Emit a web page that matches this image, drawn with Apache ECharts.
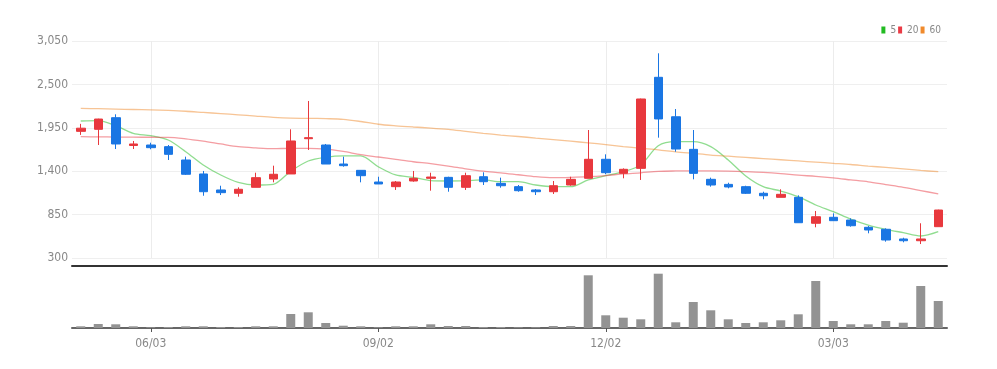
<!DOCTYPE html>
<html>
<head>
<meta charset="utf-8">
<script src="https://cdn.jsdelivr.net/npm/echarts@6/dist/echarts.min.js"></script>
<style>
  html, body { margin: 0; padding: 0; background: #fff; }
  #chart { width: 997px; height: 369px; }
</style>
</head>
<body>
<div id="chart"></div>
<script>
// weekly candles, 2024-05-06 .. 2025-04-14
const categories = [
  '05/06', '05/13', '05/20', '05/27', '06/03', '06/10', '06/17', '06/24', '07/01', '07/08',
  '07/15', '07/22', '07/29', '08/05', '08/12', '08/19', '08/26', '09/02', '09/09', '09/16',
  '09/23', '09/30', '10/07', '10/14', '10/21', '10/28', '11/04', '11/11', '11/18', '11/25',
  '12/02', '12/09', '12/16', '12/23', '12/30', '01/06', '01/13', '01/20', '01/27', '02/03',
  '02/10', '02/17', '02/24', '03/03', '03/10', '03/17', '03/24', '03/31', '04/07', '04/14'
];
const shownLabels = ['06/03', '09/02', '12/02', '03/03'];

// [open, close, low, high]
const ohlc = [
  [1905, 1945, 1860, 2000], [1931, 2061, 1732, 2065], [2078, 1745, 1681, 2121], [1726, 1745, 1681, 1783],
  [1732, 1698, 1678, 1761], [1711, 1614, 1542, 1732], [1542, 1361, 1352, 1584], [1365, 1140, 1089, 1403],
  [1162, 1128, 1098, 1216], [1120, 1171, 1077, 1196], [1196, 1318, 1196, 1381], [1301, 1361, 1259, 1470],
  [1365, 1783, 1365, 1931], [1812, 1825, 1669, 2290], [1732, 1491, 1491, 1745], [1491, 1470, 1457, 1584],
  [1411, 1343, 1259, 1411], [1263, 1238, 1238, 1330], [1204, 1263, 1162, 1276], [1276, 1310, 1267, 1403],
  [1310, 1326, 1153, 1381], [1322, 1196, 1140, 1330], [1196, 1343, 1162, 1381], [1330, 1267, 1225, 1386],
  [1246, 1216, 1191, 1318], [1204, 1153, 1140, 1225], [1162, 1140, 1098, 1174], [1140, 1216, 1111, 1276],
  [1225, 1297, 1216, 1330], [1310, 1551, 1310, 1922], [1551, 1381, 1361, 1614], [1373, 1424, 1310, 1436],
  [1436, 2315, 1289, 2320], [2590, 2062, 1825, 2894], [2090, 1681, 1647, 2188], [1677, 1373, 1297, 1922],
  [1297, 1225, 1204, 1318], [1233, 1200, 1183, 1254], [1204, 1120, 1111, 1216], [1120, 1089, 1044, 1140],
  [1069, 1107, 1069, 1171], [1069, 747, 747, 1094], [740, 823, 689, 896], [816, 773, 769, 866],
  [781, 709, 697, 803], [689, 655, 613, 706], [664, 528, 507, 676], [541, 519, 499, 557],
  [519, 541, 477, 740], [697, 908, 695, 912]
];

const ma5 = [
  2036, 2040, 1977, 1880, 1850, 1795, 1647, 1479, 1352, 1259,
  1225, 1234, 1400, 1529, 1576, 1593, 1593, 1457, 1352, 1322,
  1280, 1276, 1280, 1289, 1267, 1267, 1225, 1204, 1204, 1289,
  1343, 1394, 1479, 1723, 1774, 1774, 1711, 1542, 1340, 1204,
  1149, 1077, 972, 887, 794, 718, 664, 621, 579, 633
];
const ma20 = [
  1837, 1835, 1833, 1831, 1830, 1829, 1810, 1780, 1745, 1711,
  1695, 1685, 1690, 1690, 1680, 1650, 1610, 1580, 1550, 1520,
  1495, 1465, 1430, 1400, 1380, 1355, 1330, 1318, 1322, 1330,
  1345, 1365, 1380, 1398, 1403, 1405, 1405, 1402, 1395, 1385,
  1370, 1350, 1335, 1315, 1290, 1265, 1230, 1195, 1155, 1112
];
const ma60 = [
  2197, 2192, 2187, 2182, 2177, 2170, 2160, 2145, 2130, 2115,
  2098, 2082, 2072, 2070, 2066, 2058, 2030, 1995, 1975, 1960,
  1947, 1930, 1905, 1880, 1858, 1840, 1820, 1800, 1780, 1760,
  1738, 1712, 1690, 1670, 1645, 1625, 1605, 1590, 1575, 1560,
  1545, 1530, 1515, 1500, 1485, 1465, 1448, 1430, 1410, 1394
];

// relative volume (units)
const volume = [
  1.7, 4, 3.7, 1.7, 0.7, 1, 1.7, 1.7, 1, 1,
  1.7, 1.7, 14, 15.7, 5, 2.3, 1.7, 0.7, 1.7, 1.7,
  3.7, 2, 2, 1, 1, 0.7, 0.7, 2, 2, 52.7,
  12.7, 10.3, 8.7, 54.3, 5.7, 26, 17.7, 8.7, 5, 5.7,
  7.7, 13.7, 47, 7, 3.7, 3.7, 7, 5.3, 42, 27
];

const yTicks = [300, 850, 1400, 1950, 2500, 3050];

const FONT = "'Liberation Sans Narrow', 'DejaVu Sans Condensed', sans-serif";
const showIdx = (idx, val) => shownLabels.indexOf(val) >= 0;

const maLine = (name, data, color) => ({
  name: name,
  type: 'line',
  data: data,
  showSymbol: false,
  smooth: 0.3,
  itemStyle: { color: color },
  lineStyle: { color: color, width: 1.3, opacity: 0.5 },
  z: 3
});

const chart = echarts.init(document.getElementById('chart'));

chart.setOption({
  animation: false,
  legend: {
    data: ['5', '20', '60'],
    right: 51,
    top: 20,
    icon: 'rect',
    itemWidth: 4,
    itemHeight: 7,
    itemGap: 2,
    textStyle: { color: '#888', fontSize: 10, fontFamily: FONT }
  },
  grid: [
    { left: 72, right: 50, top: 41, height: 217 },
    { left: 72, right: 50, top: 273, height: 55 }
  ],
  xAxis: [
    {
      type: 'category',
      gridIndex: 0,
      data: categories,
      offset: 8,
      axisLine: { show: true, lineStyle: { color: '#333', width: 2 } },
      axisTick: { show: false },
      axisLabel: { show: false },
      splitLine: {
        show: true,
        interval: showIdx,
        alignWithLabel: true,
        lineStyle: { color: '#ececec', width: 1 }
      }
    },
    {
      type: 'category',
      gridIndex: 1,
      data: categories,
      axisLine: { show: true, lineStyle: { color: '#666', width: 2 } },
      axisTick: { show: true, interval: showIdx, alignWithLabel: true, length: 4, lineStyle: { color: '#555' } },
      axisLabel: { interval: showIdx, color: '#888', fontSize: 12, fontFamily: FONT, margin: 10 },
      splitLine: { show: false }
    }
  ],
  yAxis: [
    {
      type: 'value',
      gridIndex: 0,
      min: yTicks[0],
      max: yTicks[yTicks.length - 1],
      interval: 550,
      axisLine: { show: false },
      axisTick: { show: false },
      axisLabel: {
        color: '#888',
        fontSize: 12,
        fontFamily: FONT,
        margin: 4,
        formatter: v => v.toLocaleString('en-US')
      },
      splitLine: { lineStyle: { color: '#efefef' } }
    },
    {
      type: 'value',
      gridIndex: 1,
      min: 0,
      max: 55,
      show: false,
      splitLine: { show: false }
    }
  ],
  series: [
    {
      name: 'price',
      type: 'candlestick',
      data: ohlc,
      barWidth: 9,
      itemStyle: {
        color: '#e8383d',
        color0: '#1a76e3',
        borderColor: '#e8383d',
        borderColor0: '#1a76e3',
        borderWidth: 1
      },
      z: 4
    },
    maLine('5', ma5, '#22bb22'),
    maLine('20', ma20, '#ea3b45'),
    maLine('60', ma60, '#f08a2c'),
    {
      name: 'volume',
      type: 'bar',
      xAxisIndex: 1,
      yAxisIndex: 1,
      data: volume,
      barWidth: 9,
      itemStyle: { color: '#939393' }
    }
  ]
});
</script>
</body>
</html>
